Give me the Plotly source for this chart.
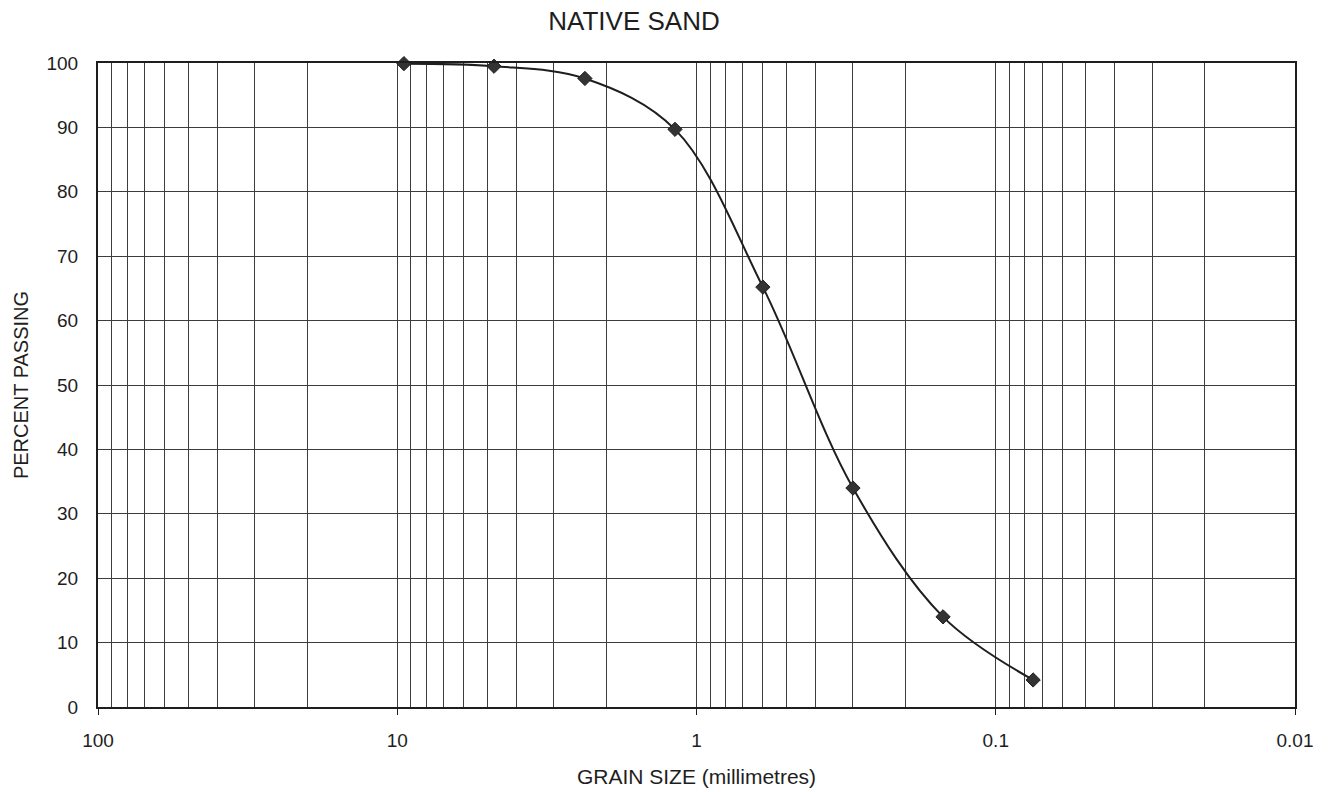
import plotly.graph_objects as go

# Sieve analysis of the native sand sample
grain_size_mm = [9.5, 4.75, 2.36, 1.18, 0.6, 0.3, 0.15, 0.075]
percent_passing = [99.9, 99.5, 97.6, 89.7, 65.2, 34.0, 14.0, 4.2]

# Axis labelling
decade_ticks = [100, 10, 1, 0.1, 0.01]
decade_labels = ["100", "10", "1", "0.1", "0.01"]
y_ticks = [0, 10, 20, 30, 40, 50, 60, 70, 80, 90, 100]

# intermediate log-grid lines (2..9 in each decade)
minor_ticks = [m * d for d in [10, 1, 0.1, 0.01] for m in range(2, 10)]

FONT = "Liberation Sans, Arial, sans-serif"
INK = "#1e1e1e"

fig = go.Figure()
fig.add_trace(go.Scatter(
    x=grain_size_mm,
    y=percent_passing,
    mode="lines+markers",
    line=dict(color=INK, width=2, shape="spline", smoothing=1.0),
    marker=dict(symbol="diamond", size=11, color="#333333",
                line=dict(color=INK, width=1)),
    showlegend=False,
    cliponaxis=False,
))

fig.update_layout(
    width=1332,
    height=792,
    margin=dict(l=98, r=37, t=63, b=85),
    paper_bgcolor="white",
    plot_bgcolor="white",
    font=dict(family=FONT, color=INK, size=19),
    title=dict(text="NATIVE SAND", x=634 / 1332, xanchor="center",
               y=1 - 21 / 792, yanchor="middle",
               font=dict(size=26, family=FONT, color=INK)),
)

fig.update_xaxes(
    type="log",
    range=[2, -2],
    automargin=False,
    tickmode="array",
    tickvals=decade_ticks,
    ticktext=decade_labels,
    ticks="outside",
    ticklen=6,
    tickcolor=INK,
    ticklabelstandoff=9,
    tickfont=dict(size=19, family=FONT, color=INK),
    showgrid=True,
    gridcolor="#3c3c3c",
    gridwidth=1,
    minor=dict(tickmode="array", tickvals=minor_ticks, showgrid=True,
               gridcolor="#3c3c3c", gridwidth=1, ticks=""),
    showline=True,
    linecolor=INK,
    linewidth=2,
    mirror=True,
    zeroline=False,
    title=dict(text="GRAIN SIZE (millimetres)", standoff=20,
               font=dict(size=21, family=FONT, color=INK)),
)

fig.update_yaxes(
    range=[0, 100],
    automargin=False,
    tickmode="array",
    tickvals=y_ticks,
    ticks="",
    ticklabelstandoff=14,
    tickfont=dict(size=19, family=FONT, color=INK),
    showgrid=True,
    gridcolor="#3c3c3c",
    gridwidth=1,
    showline=True,
    linecolor=INK,
    linewidth=2,
    mirror=True,
    zeroline=False,
    title=dict(text="PERCENT PASSING", standoff=12,
               font=dict(size=20, family=FONT, color=INK)),
)

fig.write_html("out.html")
